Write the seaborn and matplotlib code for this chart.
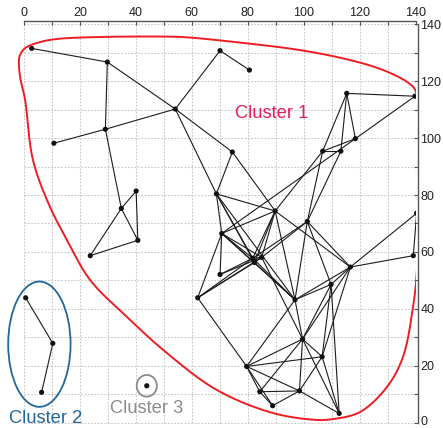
import numpy as np
import pandas as pd
import matplotlib
matplotlib.use("Agg")
import matplotlib.pyplot as plt
import matplotlib.transforms as mtransforms
from matplotlib.collections import LineCollection
from matplotlib.patches import Ellipse
import seaborn as sns

# ---- network data -------------------------------------------------------
node_ids = ["A", "B", "C", "D", "E", "F", "G", "H", "I", "J", "K", "L", "M",
            "N", "O", "P", "Q", "R", "S", "T", "U", "V", "W", "X", "Y1", "Y2",
            "Y3", "Z", "AA", "BB", "CC", "DD", "EE", "FF", "GG", "HH", "II",
            "JJ", "C2a", "C2b", "C2c", "C3"]
node_x = [2.75, 29.8, 70.1, 80.6, 54.1, 29.1, 10.7, 115.4, 139.8, 118.5, 74.5,
          106.8, 113.3, 40.1, 34.8, 40.7, 23.7, 68.8, 89.8, 101.3, 70.7, 140.4,
          139.2, 116.7, 81.8, 85.0, 82.4, 70.1, 109.8, 62.1, 96.9, 99.6, 106.6,
          79.6, 84.3, 98.5, 88.9, 112.7, 0.6, 10.3, 6.3, 43.9]
node_y = [131.5, 126.7, 130.7, 123.9, 110.2, 103.1, 98.2, 115.7, 114.7, 99.8,
          95.1, 95.4, 95.4, 81.4, 75.3, 64.1, 58.7, 80.4, 74.4, 70.7, 66.5,
          73.6, 58.7, 54.7, 57.8, 58.1, 56.3, 52.1, 48.6, 43.9, 43.2, 29.4,
          23.2, 19.8, 10.9, 11.2, 6.0, 3.3, 43.9, 27.9, 10.7, 13.0]

edges = [
    ("A", "B"), ("B", "E"), ("B", "F"), ("G", "F"), ("F", "E"), ("F", "O"),
    ("E", "C"), ("C", "D"), ("E", "R"), ("E", "K"),
    ("N", "O"), ("N", "P"), ("O", "P"), ("O", "Q"), ("Q", "P"),
    ("H", "I"), ("H", "L"), ("H", "M"), ("H", "J"), ("I", "J"), ("J", "L"),
    ("L", "M"), ("J", "U"), ("L", "S"), ("L", "T"), ("M", "T"),
    ("K", "R"), ("K", "S"), ("R", "S"), ("R", "U"), ("R", "Y1"), ("R", "Y3"),
    ("R", "CC"),
    ("S", "U"), ("S", "Y1"), ("S", "Y2"), ("S", "Y3"), ("S", "X"), ("S", "CC"),
    ("U", "Y1"), ("U", "Y3"), ("U", "Y2"), ("U", "Z"), ("U", "BB"), ("U", "CC"),
    ("Y1", "Y2"), ("Y1", "Y3"), ("Y2", "Y3"), ("T", "Y1"), ("T", "Y2"),
    ("Z", "Y1"), ("Z", "Y2"), ("BB", "Y1"), ("BB", "Y2"), ("BB", "Y3"),
    ("Y1", "CC"), ("Y3", "CC"), ("Y2", "DD"),
    ("T", "X"), ("T", "CC"), ("T", "AA"),
    ("X", "V"), ("X", "W"), ("V", "W"), ("X", "AA"), ("X", "CC"), ("X", "DD"),
    ("X", "EE"),
    ("CC", "AA"), ("CC", "DD"), ("CC", "FF"), ("AA", "EE"), ("AA", "DD"),
    ("AA", "JJ"), ("BB", "FF"), ("FF", "DD"), ("FF", "EE"), ("FF", "HH"),
    ("FF", "GG"), ("FF", "II"), ("DD", "HH"), ("DD", "GG"), ("DD", "EE"),
    ("DD", "JJ"), ("EE", "HH"), ("EE", "JJ"), ("HH", "GG"), ("HH", "II"),
    ("HH", "JJ"), ("GG", "II"),
    ("C2a", "C2b"), ("C2b", "C2c"),
]

# outline of the first cluster (closed, smoothed below)
hull1_x = [-1.8, -1.4, 0.4, 5.7, 11.8, 27.2, 53.3, 59.4, 74.8, 98.7, 116.6,
           128.4, 137.0, 139.9, 140.7, 140.7, 140.5, 139.1, 135.5, 129.8,
           120.2, 110.5, 104.8, 89.1, 69.0, 51.1, 36.8, 23.6, 15.4, 9.3, 3.2,
           0.4, -1.4]
hull1_y = [127.4, 129.2, 131.6, 133.7, 134.8, 135.5, 135.6, 135.3, 133.8,
           130.9, 127.4, 123.9, 119.7, 116.9, 109.9, 85.3, 53.7, 40.7, 23.1,
           12.6, 3.8, 1.3, 1.0, 3.4, 11.5, 24.5, 37.2, 50.2, 64.2, 75.8, 92.3,
           113.4, 121.4]

cluster_labels = ["Cluster 1", "Cluster 2", "Cluster 3"]
cluster_colors = ["#ee1d23", "#22679a", "#8a8a8a"]
label_colors = ["#e61f5b", "#22679a", "#8c8c8c"]
label_x = [88.5, 7.9, 43.7]
label_y = [106.9, -0.2, 3.3]

axis_ticks = list(range(0, 141, 20))


def centripetal_closed(xs, ys, n=24, alpha=0.5):
    P = np.column_stack([xs, ys]).astype(float)
    N = len(P)
    out = []
    for i in range(N):
        p0, p1, p2, p3 = P[(i - 1) % N], P[i], P[(i + 1) % N], P[(i + 2) % N]
        t0 = 0.0
        t1 = t0 + np.linalg.norm(p1 - p0) ** alpha
        t2 = t1 + np.linalg.norm(p2 - p1) ** alpha
        t3 = t2 + np.linalg.norm(p3 - p2) ** alpha
        t = np.linspace(t1, t2, n, endpoint=False)[:, None]
        A1 = (t1 - t) / (t1 - t0) * p0 + (t - t0) / (t1 - t0) * p1
        A2 = (t2 - t) / (t2 - t1) * p1 + (t - t1) / (t2 - t1) * p2
        A3 = (t3 - t) / (t3 - t2) * p2 + (t - t2) / (t3 - t2) * p3
        B1 = (t2 - t) / (t2 - t0) * A1 + (t - t0) / (t2 - t0) * A2
        B2 = (t3 - t) / (t3 - t1) * A2 + (t - t1) / (t3 - t1) * A3
        out.append((t2 - t) / (t2 - t1) * B1 + (t - t1) / (t2 - t1) * B2)
    out.append(P[:1])
    return np.vstack(out)


# ---- styling ------------------------------------------------------------
sns.set_style("white")
plt.rcParams["font.family"] = ["Liberation Sans", "DejaVu Sans"]

fig = plt.figure(figsize=(4.43, 4.28), dpi=100)
ax = fig.add_axes([0.0, 0.0, 0.938, 0.9435])

nodes = pd.DataFrame({"id": node_ids, "x": node_x, "y": node_y})
pos = {r.id: (r.x, r.y) for r in nodes.itertuples()}

# dotted reference grid limited to the 0..140 square
grid_kw = dict(color="#c9c9c9", linewidth=0.8, linestyle=(0, (1.6, 1.4)), zorder=0)
for v in range(0, 141, 10):
    ax.plot([v, v], [0, 140], **grid_kw)
    ax.plot([0, 140], [v, v], **grid_kw)

# edges
segs = [[pos[a], pos[b]] for a, b in edges]
ax.add_collection(LineCollection(segs, colors="#1c1c1c", linewidths=0.8, zorder=2))

# nodes
sns.scatterplot(data=nodes, x="x", y="y", color="#111111", s=14,
                edgecolor="none", legend=False, ax=ax, zorder=3)

# cluster outlines
hull = centripetal_closed(hull1_x, hull1_y)
ax.plot(hull[:, 0], hull[:, 1], color=cluster_colors[0], lw=1.4, zorder=4)
ax.add_patch(Ellipse((5.5, 27.6), 22.3, 44.0, fill=False,
                     edgecolor=cluster_colors[1], lw=1.3, zorder=4))
ax.add_patch(Ellipse(pos["C3"], 7.2, 7.6, fill=False,
                     edgecolor=cluster_colors[2], lw=1.3, zorder=4))

for txt, col, lx, ly in zip(cluster_labels, label_colors, label_x, label_y):
    ax.text(lx, ly, txt, color=col, fontsize=13.2, ha="center", va="baseline",
            zorder=5)

# axes: ticks on top and right only
ax.set_xlim(-8.58, 140)
ax.set_ylim(-1.83, 140)
ax.xaxis.tick_top()
ax.yaxis.tick_right()
ax.set_xticks(axis_ticks)
ax.set_yticks(axis_ticks)
ax.set_xticks(range(0, 141, 10), minor=True)
ax.set_yticks(range(0, 141, 10), minor=True)
ax.tick_params(which="both", direction="in", length=3, width=0.8,
               color="#555555", labelsize=9.0, labelcolor="#222222", pad=1.5)
ax.set_xlabel("")
ax.set_ylabel("")
for side in ["left", "bottom"]:
    ax.spines[side].set_visible(False)
for side in ["top", "right"]:
    ax.spines[side].set_visible(True)
    ax.spines[side].set_color("#555555")
    ax.spines[side].set_linewidth(1.0)
    ax.spines[side].set_bounds(0, 140)
    ax.spines[side].set_position(("outward", 2))
ax.grid(False)

# keep the lowest right-hand label inside the canvas
fig.canvas.draw()
zero_label = ax.yaxis.get_major_ticks()[0].label2
zero_label.set_transform(zero_label.get_transform() +
                         mtransforms.ScaledTranslation(0, 2 / 72, fig.dpi_scale_trans))

fig.savefig("out.png", dpi=100)
